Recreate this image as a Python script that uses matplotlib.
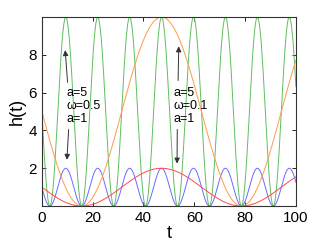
# h(t) curves for two frequencies and two amplitudes
import numpy as np
import matplotlib.pyplot as plt

plt.rcParams['font.family'] = ['Liberation Sans', 'DejaVu Sans']

# parameters
amplitudes = [5, 1]
omegas = [0.5, 0.1]
colors = {(5, 0.5): '#5fbf5f', (1, 0.5): '#6a6aff', (5, 0.1): '#ff9a4a', (1, 0.1): '#ff4a4a'}
yticks = [2, 4, 6, 8]
xticks = [0, 20, 40, 60, 80, 100]

t = np.linspace(0, 100, 2000)

fig = plt.figure(figsize=(3.27, 2.41), dpi=100)
ax = fig.add_axes([0.128, 0.145, 0.777, 0.784])

for w in omegas:
    for a in amplitudes:
        ax.plot(t, a * (1 - np.sin(w * t)), color=colors[(a, w)], lw=0.7)

ax.set_xlim(0, 100)
ax.set_ylim(0, 10)
ax.set_xticks(xticks)
ax.set_yticks(yticks)
ax.tick_params(direction='in', top=True, right=True, labelsize=11, length=3, width=0.6)
for s in ax.spines.values():
    s.set_linewidth(0.8)
    s.set_color('#333333')
ax.set_xlabel('t', fontsize=13, labelpad=0)
ax.set_ylabel('h(t)', fontsize=13, labelpad=2)

arrow = dict(arrowstyle='-|>', color='#333333', lw=0.7, mutation_scale=8)
ax.text(9.8, 5.3, 'a=5\n\u03c9=0.5\na=1', fontsize=9, linespacing=1.1, va='center')
ax.annotate('', xy=(9.1, 8.4), xytext=(10.2, 6.4), arrowprops=arrow)
ax.annotate('', xy=(9.8, 2.3), xytext=(10.6, 4.2), arrowprops=arrow)

ax.text(52.0, 5.3, 'a=5\n\u03c9=0.1\na=1', fontsize=9, linespacing=1.1, va='center')
ax.annotate('', xy=(53.9, 8.6), xytext=(53.6, 6.5), arrowprops=arrow)
ax.annotate('', xy=(53.2, 2.1), xytext=(53.3, 4.2), arrowprops=arrow)

fig.savefig('out.png', dpi=100)
